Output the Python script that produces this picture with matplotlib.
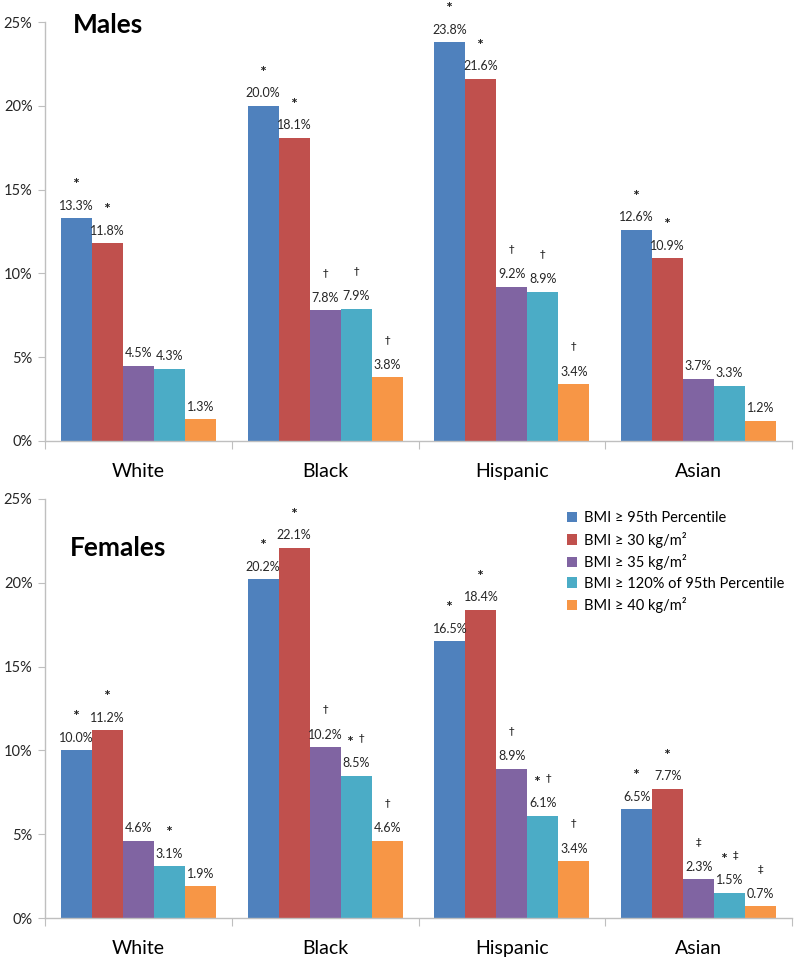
import matplotlib
matplotlib.use("Agg")
import matplotlib.pyplot as plt
import numpy as np

plt.rcParams['font.family'] = ['Lato', 'DejaVu Sans']

categories = ["White", "Black", "Hispanic", "Asian"]
series = ["BMI \u2265 95th Percentile", "BMI \u2265 30 kg/m\u00b2", "BMI \u2265 35 kg/m\u00b2",
          "BMI \u2265 120% of 95th Percentile", "BMI \u2265 40 kg/m\u00b2"]
colors = ["#4F81BD", "#C0504D", "#8064A2", "#4BACC6", "#F79646"]

# values per series, across categories
males = [
    [13.3, 20.0, 23.8, 12.6],
    [11.8, 18.1, 21.6, 10.9],
    [4.5, 7.8, 9.2, 3.7],
    [4.3, 7.9, 8.9, 3.3],
    [1.3, 3.8, 3.4, 1.2],
]
males_sym = [
    ["*", "*", "*", "*"],
    ["*", "*", "*", "*"],
    ["", "\u2020", "\u2020", ""],
    ["", "\u2020", "\u2020", ""],
    ["", "\u2020", "\u2020", ""],
]
females = [
    [10.0, 20.2, 16.5, 6.5],
    [11.2, 22.1, 18.4, 7.7],
    [4.6, 10.2, 8.9, 2.3],
    [3.1, 8.5, 6.1, 1.5],
    [1.9, 4.6, 3.4, 0.7],
]
females_sym = [
    ["*", "*", "*", "*"],
    ["*", "*", "*", "*"],
    ["", "\u2020", "\u2020", "\u2021"],
    ["*", "* \u2020", "* \u2020", "* \u2021"],
    ["", "\u2020", "\u2020", "\u2021"],
]
yticks = [0, 5, 10, 15, 20, 25]
ytick_labels = ["0%", "5%", "10%", "15%", "20%", "25%"]

W, H = 800, 959
fig = plt.figure(figsize=(8, 9.59), dpi=100)

def px_axes(left, right, top, bottom):
    return fig.add_axes([left / W, 1 - bottom / H, (right - left) / W, (bottom - top) / H])

ax1 = px_axes(45, 792, 22, 441)
ax2 = px_axes(45, 792, 499, 918)

gray = "#BFBFBF"
txt = "#262626"
bw = 0.166

def put_symbols(ax, p, v, s):
    toks = s.split()
    n = len(toks)
    for k, t in enumerate(toks):
        dx = (k - (n - 1) / 2) * 8
        if t == "*":
            glyph, fs, dy = "\u2217", 6, 27
        else:
            glyph, fs, dy = t, 8, 27
        ax.annotate(glyph, (p, v), xytext=(dx, dy), textcoords="offset points",
                    ha="center", va="center", fontsize=fs, color=txt,
                    fontweight="bold" if t == "*" else "normal",
                    family=['DejaVu Sans'], annotation_clip=False)

def draw(ax, data, syms):
    x = np.arange(len(categories))
    n = len(series)
    for i in range(n):
        pos = x + (i - (n - 1) / 2) * bw
        ax.bar(pos, data[i], width=bw, color=colors[i], label=series[i], zorder=2)
        for p, v, s in zip(pos, data[i], syms[i]):
            ax.annotate(f"{v:.1f}%", (p, v), xytext=(0, 9), textcoords="offset points",
                        ha="center", va="center", fontsize=9, color=txt, annotation_clip=False)
            if s:
                put_symbols(ax, p, v, s)
    ax.set_xlim(-0.5, len(categories) - 0.5)
    ax.set_ylim(0, 25)
    ax.set_yticks(yticks)
    ax.set_yticklabels(ytick_labels, fontsize=10.5, color=txt)
    ax.set_xticks(np.arange(len(categories) + 1) - 0.5)
    ax.set_xticklabels([])
    ax.set_xticks(x, minor=True)
    ax.set_xticklabels(categories, minor=True, fontsize=14, color="black")
    ax.tick_params(axis="x", which="major", length=6, color=gray, direction="out")
    ax.tick_params(axis="x", which="minor", length=0, pad=16)
    ax.tick_params(axis="y", length=5, color=gray, direction="out", pad=4)
    for sp in ["top", "right"]:
        ax.spines[sp].set_visible(False)
    for sp in ["left", "bottom"]:
        ax.spines[sp].set_color(gray)
        ax.spines[sp].set_linewidth(1)

draw(ax1, males, males_sym)
draw(ax2, females, females_sym)

fig.text(73 / W, 1 - 25 / H, "Males", fontsize=19, fontweight="bold", va="center", ha="left")
fig.text(70 / W, 1 - 548 / H, "Females", fontsize=19, fontweight="bold", va="center", ha="left")

handles, labels = ax2.get_legend_handles_labels()
fig.legend(handles, labels, loc="upper left", bbox_to_anchor=(567 / W, 1 - 511 / H),
           bbox_transform=fig.transFigure, frameon=False, fontsize=10.5,
           handlelength=0.7, handleheight=0.7, handletextpad=0.45, labelspacing=0.45,
           borderpad=0, borderaxespad=0)

fig.savefig("out.png", dpi=100)
